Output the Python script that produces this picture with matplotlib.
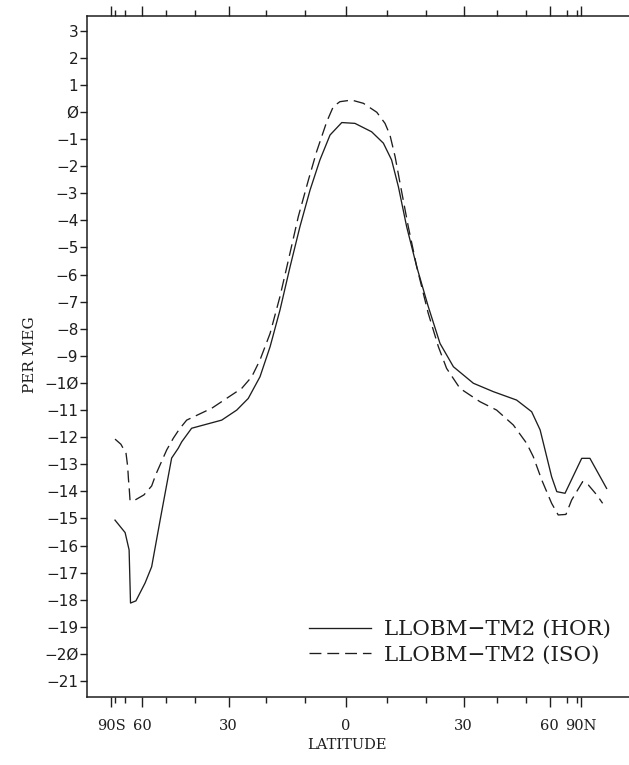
import numpy as np
import matplotlib
matplotlib.use("Agg")
import matplotlib.pyplot as plt

# Horizontal coordinate is sine of latitude (area-weighted axis)
hor_mu = [-0.983, -0.940, -0.923, -0.917, -0.894, -0.855, -0.827, -0.791, -0.742,
          -0.714, -0.699, -0.657, -0.529, -0.465, -0.416, -0.366, -0.323, -0.281,
          -0.238, -0.196, -0.153, -0.111, -0.068, -0.018, 0.038, 0.109, 0.159,
          0.194, 0.223, 0.258, 0.301, 0.350, 0.400, 0.457, 0.542, 0.627, 0.726,
          0.790, 0.826, 0.847, 0.875, 0.897, 0.932, 1.003, 1.038, 1.109]
hor_val = [-15.06, -15.52, -16.16, -18.12, -18.04, -17.38, -16.78, -15.06, -12.77,
           -12.41, -12.17, -11.67, -11.37, -11.00, -10.57, -9.77, -8.66, -7.31,
           -5.71, -4.23, -2.88, -1.77, -0.85, -0.39, -0.42, -0.73, -1.15,
           -1.77, -2.76, -4.23, -5.71, -7.18, -8.54, -9.40, -10.01, -10.32, -10.63,
           -11.06, -11.73, -12.47, -13.46, -14.01, -14.07, -12.78, -12.78, -13.89]

iso_mu = [-0.983, -0.958, -0.936, -0.929, -0.926, -0.922, -0.919, -0.902, -0.860,
          -0.827, -0.810, -0.763, -0.735, -0.709, -0.678, -0.571, -0.486, -0.444,
          -0.401, -0.366, -0.323, -0.281, -0.245, -0.203, -0.160, -0.125, -0.082,
          -0.054, -0.026, 0.024, 0.074, 0.131, 0.166, 0.187, 0.209, 0.230, 0.265,
          0.301, 0.350, 0.393, 0.428, 0.485, 0.570, 0.641, 0.712, 0.769, 0.797,
          0.833, 0.875, 0.903, 0.936, 0.960, 1.007, 1.031, 1.067, 1.092]
iso_val = [-12.07, -12.26, -12.60, -13.09, -13.52, -13.95, -14.34, -14.34, -14.13,
           -13.80, -13.39, -12.47, -12.04, -11.70, -11.37, -10.93, -10.44, -10.20,
           -9.77, -9.15, -8.17, -6.81, -5.46, -3.86, -2.51, -1.46, -0.36,
           0.20, 0.38, 0.44, 0.32, -0.01, -0.42, -0.85, -1.65, -2.63, -4.23,
           -5.71, -7.43, -8.66, -9.46, -10.20, -10.69, -11.00, -11.55, -12.23, -12.72,
           -13.58, -14.44, -14.87, -14.85, -14.32, -13.64, -13.76, -14.13, -14.44]

series_labels = ["LLOBM\u2212TM2 (HOR)", "LLOBM\u2212TM2 (ISO)"]

major_lat = [-90, -60, -30, 0, 30, 60, 90]
major_lab = ["90S", "60", "30", "0", "30", "60", "90N"]
minor_lat = list(range(-90, 91, 10))

y_ticks = list(range(3, -22, -1))


def ylab(v):
    s = str(abs(v)).replace("0", "\u00d8")
    return ("\u2212" + s) if v < 0 else s


W, H = 629, 765
fig = plt.figure(figsize=(W / 100, H / 100), dpi=100)

left_px, right_px, top_px, bot_px = 87.3, 660.0, 16.0, 696.7
ax = fig.add_axes([left_px / W, 1 - bot_px / H, (right_px - left_px) / W,
                   (bot_px - top_px) / H])

ink = "#1e1e1e"
ax.plot(hor_mu, hor_val, color=ink, lw=0.95, label=series_labels[0])
ax.plot(iso_mu, iso_val, color=ink, lw=0.95, dashes=(9, 4.5), label=series_labels[1])

ax.set_xlim(-1.1009, (right_px - 346.0) / 235.0)
ax.set_ylim(-21.576, 3.542)

ax.spines["right"].set_visible(False)
for s in ("left", "top", "bottom"):
    ax.spines[s].set_linewidth(1.1)
    ax.spines[s].set_color(ink)

ax.set_xticks(np.sin(np.radians(major_lat)))
ax.set_xticklabels(major_lab, family="DejaVu Serif", fontsize=10.5)
ax.set_xticks(np.sin(np.radians(minor_lat)), minor=True)
ax.tick_params(axis="x", which="major", direction="out", length=7, width=1.0,
               top=True, bottom=True, pad=9, colors=ink)
ax.tick_params(axis="x", which="minor", direction="out", length=4.5, width=1.0,
               top=True, bottom=True, colors=ink)

ax.set_yticks(y_ticks)
ax.set_yticklabels([ylab(v) for v in y_ticks], family="DejaVu Sans", fontsize=11)
ax.tick_params(axis="y", which="major", direction="out", length=5, width=1.0,
               pad=1.5, colors=ink)

fig.text(347 / W, 1 - 745 / H, "LATITUDE", family="DejaVu Serif", fontsize=10.5,
         ha="center", va="center", color=ink)
fig.text(30 / W, 1 - 355 / H, "PER MEG", family="DejaVu Serif", fontsize=11,
         ha="center", va="center", rotation=90, color=ink)

leg = ax.legend(loc="upper left", bbox_to_anchor=(309 / W, 1 - 620 / H),
                bbox_transform=fig.transFigure, frameon=False, borderpad=0,
                borderaxespad=0, handlelength=2.9, handletextpad=0.6,
                labelspacing=0.32, prop={"family": "DejaVu Serif", "size": 15.4})
for t in leg.get_texts():
    t.set_color(ink)

fig.savefig("out.png", dpi=100)
